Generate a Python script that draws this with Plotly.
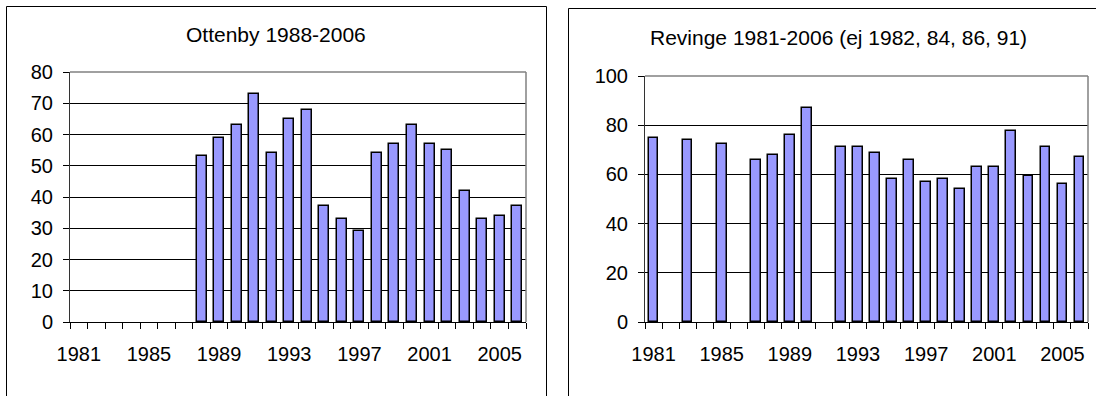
import plotly.graph_objects as go

# ---- data ----
ottenby_years = list(range(1988, 2007))
ottenby_values = [53, 59, 63, 73, 54, 65, 68, 37, 33, 29, 54, 57, 63, 57, 55, 42, 33, 34, 37]

revinge_years = [1981, 1983, 1985, 1987, 1988, 1989, 1990, 1992, 1993, 1994, 1995, 1996,
                 1997, 1998, 1999, 2000, 2001, 2002, 2003, 2004, 2005, 2006]
revinge_values = [75, 74, 72.5, 66, 68, 76, 87, 71, 71, 68.5, 58, 66,
                  57, 58, 54, 63, 63, 77.5, 59.5, 71, 56, 67]

all_years = list(range(1981, 2007))
label_years = [1981, 1985, 1989, 1993, 1997, 2001, 2005]
left_title = "Ottenby 1988-2006"
right_title = "Revinge 1981-2006 (ej 1982, 84, 86, 91)"

W, H = 1096, 396
FONT = "Arial, Liberation Sans, sans-serif"
BAR_COLOR = "#9999FF"

def fx(px):
    return px / W

def fy(py):
    return 1 - py / H

fig = go.Figure()
fig.add_trace(go.Bar(x=ottenby_years, y=ottenby_values, xaxis="x", yaxis="y",
                     width=0.57, marker=dict(color=BAR_COLOR, line=dict(color="black", width=1.5)),
                     showlegend=False, hoverinfo="x+y"))
fig.add_trace(go.Bar(x=revinge_years, y=revinge_values, xaxis="x2", yaxis="y2",
                     width=0.57, marker=dict(color=BAR_COLOR, line=dict(color="black", width=1.5)),
                     showlegend=False, hoverinfo="x+y"))

boundaries = [y - 0.5 for y in all_years] + [all_years[-1] + 0.5]

def xaxis_cfg(domain, anchor):
    return dict(domain=domain, anchor=anchor, range=[all_years[0] - 0.5, all_years[-1] + 0.5],
                automargin=False,
                tickmode="array", tickvals=label_years, ticktext=[str(v) for v in label_years],
                ticks="", ticklabelstandoff=14, showgrid=False, zeroline=False,
                showline=True, linecolor="black", linewidth=1,
                tickfont=dict(family=FONT, size=20, color="black"),
                minor=dict(tickmode="array", tickvals=boundaries, ticks="outside", ticklen=6,
                           tickcolor="black", tickwidth=1, showgrid=False))

def yaxis_cfg(domain, anchor, rng, dtick):
    return dict(domain=domain, anchor=anchor, range=rng, dtick=dtick, tick0=0,
                automargin=False,
                ticks="outside", ticklen=6, tickcolor="black", tickwidth=1,
                ticklabelstandoff=6,
                showgrid=True, gridcolor="black", gridwidth=1, zeroline=False,
                showline=True, linecolor="#333333", linewidth=1,
                tickfont=dict(family=FONT, size=20, color="black"))

# plot-area pixel boxes
L = dict(x0=70, x1=526, y0=72, y1=322)
R = dict(x0=645, x1=1088, y0=76, y1=322)

fig.update_layout(
    template="none",
    width=W, height=H, autosize=False,
    margin=dict(l=0, r=0, t=0, b=0, pad=0),
    paper_bgcolor="white", plot_bgcolor="white",
    bargap=0,
    xaxis=xaxis_cfg([fx(L["x0"]), fx(L["x1"])], "y"),
    yaxis=yaxis_cfg([fy(L["y1"]), fy(L["y0"])], "x", [0, 80], 10),
    xaxis2=xaxis_cfg([fx(R["x0"]), fx(R["x1"])], "y2"),
    yaxis2=yaxis_cfg([fy(R["y1"]), fy(R["y0"])], "x2", [0, 100], 20),
)

shapes = []
# outer chart frames
shapes.append(dict(type="rect", xref="paper", yref="paper",
                   x0=fx(6.5), x1=fx(546.5), y0=-0.2, y1=fy(6.5),
                   line=dict(color="black", width=1), fillcolor="rgba(0,0,0,0)", layer="below"))
shapes.append(dict(type="rect", xref="paper", yref="paper",
                   x0=fx(568.5), x1=fx(1108.5), y0=-0.2, y1=fy(8.5),
                   line=dict(color="black", width=1), fillcolor="rgba(0,0,0,0)", layer="below"))
# grey plot-area top and right borders
for xd, yd in (("x domain", "y domain"), ("x2 domain", "y2 domain")):
    shapes.append(dict(type="line", xref=xd, yref=yd, x0=0, x1=1, y0=1, y1=1,
                       line=dict(color="#808080", width=1.5), layer="above"))
    shapes.append(dict(type="line", xref=xd, yref=yd, x0=1, x1=1, y0=0, y1=1,
                       line=dict(color="#808080", width=1.5), layer="above"))
fig.update_layout(shapes=shapes)

fig.add_annotation(text=left_title, xref="paper", yref="paper", x=fx(276), y=fy(35),
                   xanchor="center", yanchor="middle", showarrow=False,
                   font=dict(family=FONT, size=21, color="black"))
fig.add_annotation(text=right_title, xref="paper", yref="paper", x=fx(838.5), y=fy(37),
                   xanchor="center", yanchor="middle", showarrow=False,
                   font=dict(family=FONT, size=21, color="black"))

fig.write_html("out.html", config={"displayModeBar": False},
               post_script="document.body.style.margin='0';")
